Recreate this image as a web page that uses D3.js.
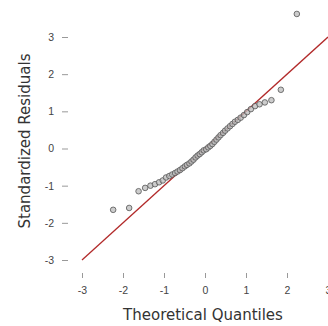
<!DOCTYPE html>
<html>
<head>
<meta charset="utf-8">
<script src="https://cdn.jsdelivr.net/npm/d3@7"></script>
<style>
  body { margin: 0; background: #fff; }
  svg { display: block; font-family: "DejaVu Sans", sans-serif; }
  .tick text { fill: #444; font-size: 10.5px; }
  .tick line { stroke: #999; }
</style>
</head>
<body>
<div id="chart"></div>
<script>
var width = 328, height = 326;

// theoretical quantiles (x) and sorted standardized residuals (y)
var theoretical = [
  -2.24, -1.85, -1.62, -1.46, -1.33, -1.22, -1.12, -1.03, -0.95, -0.87,
  -0.80, -0.73, -0.67, -0.61, -0.55, -0.49, -0.44, -0.38, -0.33, -0.28,
  -0.23, -0.18, -0.13, -0.08, -0.03, 0.03, 0.08, 0.13, 0.18, 0.23,
  0.28, 0.33, 0.38, 0.44, 0.49, 0.55, 0.61, 0.67, 0.73, 0.80,
  0.87, 0.95, 1.03, 1.12, 1.22, 1.33, 1.46, 1.62, 1.85, 2.24
];
var residuals = [
  -1.65, -1.60, -1.15, -1.06, -1.00, -0.96, -0.91, -0.86, -0.78, -0.74,
  -0.70, -0.66, -0.62, -0.58, -0.53, -0.48, -0.44, -0.40, -0.35, -0.30,
  -0.24, -0.19, -0.15, -0.10, -0.05, -0.02, 0.03, 0.07, 0.12, 0.18,
  0.24, 0.30, 0.36, 0.42, 0.48, 0.54, 0.60, 0.66, 0.72, 0.77,
  0.83, 0.90, 0.98, 1.06, 1.14, 1.19, 1.24, 1.30, 1.58, 3.62
];
var xTicks = [-3, -2, -1, 0, 1, 2, 3];
var yTicks = [-3, -2, -1, 0, 1, 2, 3];
var refLine = [-3, 3];

var svg = d3.select("#chart").append("svg")
            .attr("width", width)
            .attr("height", height);

var x = d3.scaleLinear().domain([-3, 3]).range([82, 328]);
var y = d3.scaleLinear().domain([-3, 3]).range([260, 37]);

var xAxis = svg.append("g")
               .attr("transform", "translate(0,273)")
               .call(d3.axisBottom(x).tickValues(xTicks).tickSize(5).tickPadding(9)
                       .tickFormat(d3.format("d")));
xAxis.select(".domain").remove();

var yAxis = svg.append("g")
               .attr("transform", "translate(68,0)")
               .call(d3.axisLeft(y).tickValues(yTicks).tickSize(6).tickPadding(8)
                       .tickFormat(d3.format("d")));
yAxis.select(".domain").remove();

svg.selectAll(".tick text").text(d => d < 0 ? "-" + Math.abs(d) : d);

svg.append("line")
   .attr("x1", x(refLine[0])).attr("y1", y(refLine[0]))
   .attr("x2", x(refLine[1])).attr("y2", y(refLine[1]))
   .attr("stroke", "#b22a2a")
   .attr("stroke-width", 1.3);

svg.selectAll("circle")
   .data(theoretical)
   .enter().append("circle")
   .attr("cx", d => x(d))
   .attr("cy", (d, i) => y(residuals[i]))
   .attr("r", 2.8)
   .attr("fill", "#bbb")
   .attr("fill-opacity", 0.75)
   .attr("stroke", "#555")
   .attr("stroke-width", 0.8);

svg.append("text")
   .attr("x", 203)
   .attr("y", 320)
   .attr("text-anchor", "middle")
   .attr("font-size", 15)
   .attr("fill", "#333")
   .text("Theoretical Quantiles");

svg.append("text")
   .attr("transform", "translate(30,141) rotate(-90)")
   .attr("text-anchor", "middle")
   .attr("font-size", 15)
   .attr("fill", "#333")
   .text("Standardized Residuals");
</script>
</body>
</html>
